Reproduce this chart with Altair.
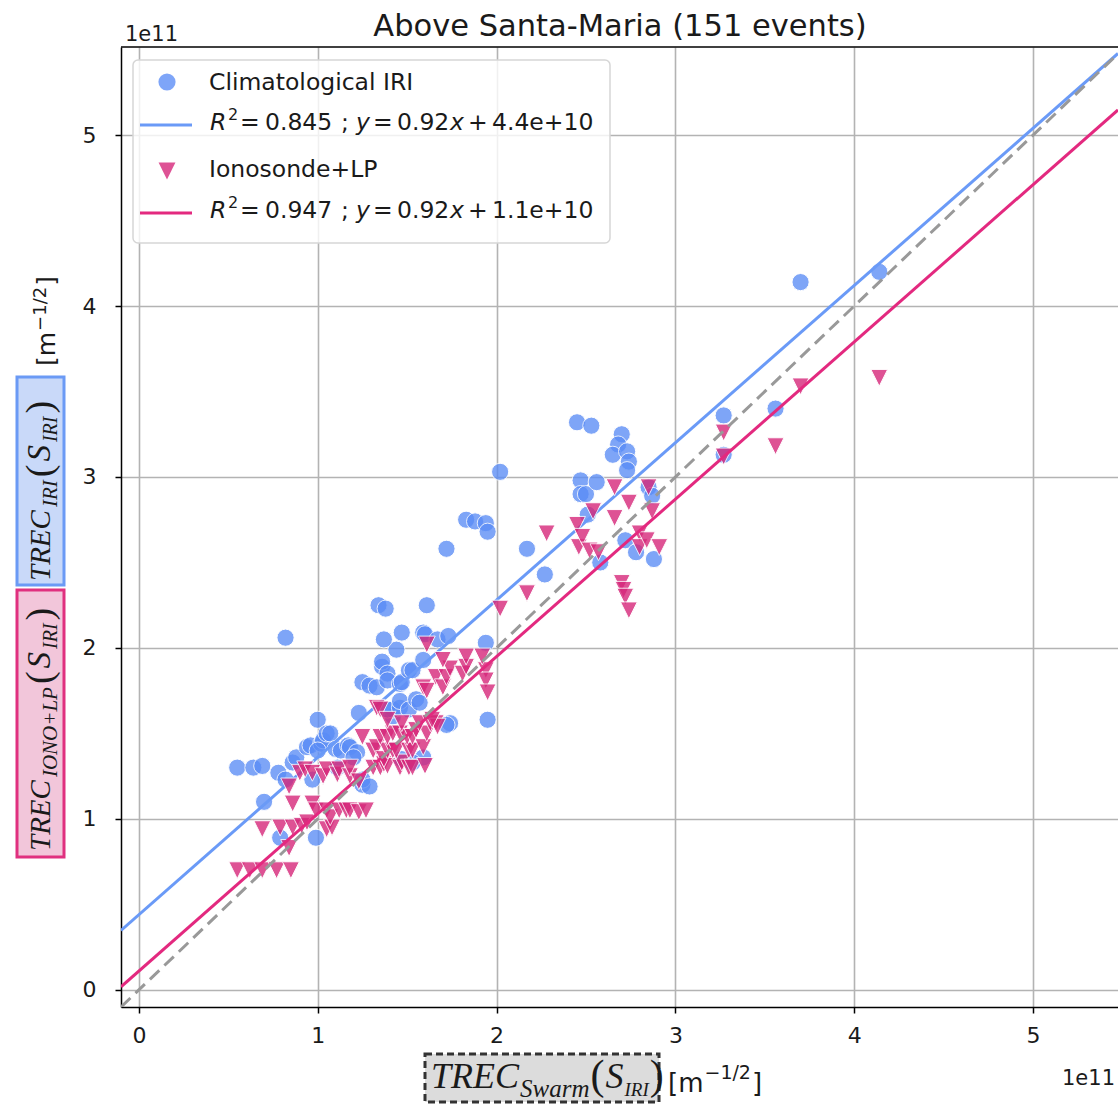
import altair as alt
import pandas as pd

# ---------------- data (values in units of 1e11 m^-1/2) ----------------
title_text = "Above Santa-Maria (151 events)"
series_names = ["Climatological IRI", "Ionosonde+LP"]

iri_x = [0.55, 0.64, 0.69, 0.78, 0.82, 0.70, 0.86, 0.88, 0.94, 0.96,
         1.00, 1.02, 1.03, 1.05, 1.07, 1.10, 1.13, 1.17, 1.18, 1.22,
         1.23, 1.25, 1.29, 1.33, 1.36, 1.36, 1.39, 1.39, 1.44, 1.46,
         1.47, 1.51, 1.53, 1.42, 1.42, 1.39, 1.46, 1.46, 1.51, 1.55,
         1.57, 1.59, 1.74, 1.72, 1.95, 1.94, 1.25, 1.25, 0.99, 0.79,
         0.82, 1.34, 1.38, 1.37, 1.47, 1.59, 1.61, 1.60, 1.59, 1.67,
         1.73, 1.72, 1.83, 1.88, 1.94, 1.95, 2.02, 2.17, 2.27, 2.45,
         2.53, 2.47, 2.47, 2.50, 2.51, 2.56, 2.58, 2.70, 2.68, 2.65,
         2.73, 2.74, 2.73, 2.72, 2.78, 2.85, 2.87, 2.88, 3.27, 3.27,
         3.56, 3.70, 4.14, 1.11, 0.97, 1.29, 1.47, 1.53, 1.00, 1.20]
iri_y = [1.30, 1.30, 1.31, 1.27, 1.23, 1.10, 1.33, 1.36, 1.42, 1.43,
         1.58, 1.44, 1.46, 1.50, 1.50, 1.41, 1.40, 1.43, 1.42, 1.39,
         1.62, 1.80, 1.78, 1.77, 1.89, 1.92, 1.85, 1.81, 1.99, 1.79,
         1.80, 1.87, 1.87, 1.60, 1.64, 1.64, 1.65, 1.69, 1.64, 1.70,
         1.68, 1.36, 1.56, 1.55, 1.58, 2.03, 1.20, 1.23, 0.89, 0.89,
         2.06, 2.25, 2.23, 2.05, 2.09, 2.09, 2.25, 2.08, 1.93, 2.05,
         2.07, 2.58, 2.75, 2.74, 2.73, 2.68, 3.03, 2.58, 2.43, 3.32,
         3.30, 2.98, 2.90, 2.90, 2.78, 2.97, 2.50, 3.25, 3.19, 3.13,
         3.15, 3.09, 3.04, 2.63, 2.56, 2.94, 2.89, 2.52, 3.36, 3.13,
         3.40, 4.14, 4.20, 1.30, 1.23, 1.19, 1.35, 1.33, 1.40, 1.36]

iono_x = [0.55, 0.62, 0.69, 0.77, 0.85, 0.84, 0.69, 0.79, 0.86, 0.91,
          0.94, 1.05, 1.08, 0.86, 0.97, 0.84, 0.99, 1.05, 1.07, 1.12,
          1.16, 1.18, 1.23, 1.27, 0.90, 0.93, 0.97, 1.03, 1.05, 1.11,
          1.12, 1.18, 1.18, 1.23, 1.31, 1.35, 1.37, 1.39, 1.46, 1.47,
          1.51, 1.53, 1.60, 1.31, 1.33, 1.37, 1.39, 1.42, 1.44, 1.51,
          1.53, 1.59, 1.25, 1.35, 1.39, 1.42, 1.46, 1.50, 1.53, 1.55,
          1.61, 1.47, 1.57, 1.63, 1.66, 1.67, 1.64, 1.33, 1.35, 1.39,
          1.59, 1.61, 1.66, 1.70, 1.72, 1.74, 1.81, 1.83, 1.94, 1.94,
          1.95, 1.61, 1.70, 1.83, 1.92, 2.02, 2.17, 2.28, 2.45, 2.46,
          2.48, 2.52, 2.54, 2.57, 2.66, 2.66, 2.74, 2.80, 2.80, 2.84,
          2.85, 2.87, 2.91, 2.70, 2.71, 2.72, 2.74, 3.27, 3.27, 3.56,
          3.70, 4.14]
iono_y = [0.70, 0.70, 0.70, 0.70, 0.70, 0.83, 0.94, 0.95, 0.95, 0.96,
          0.98, 0.94, 0.95, 1.09, 1.09, 1.19, 1.05, 1.05, 1.01, 1.05,
          1.05, 1.05, 1.04, 1.05, 1.27, 1.29, 1.27, 1.25, 1.29, 1.26,
          1.29, 1.25, 1.30, 1.22, 1.30, 1.30, 1.32, 1.31, 1.30, 1.33,
          1.30, 1.30, 1.31, 1.40, 1.42, 1.35, 1.40, 1.40, 1.40, 1.40,
          1.40, 1.42, 1.48, 1.48, 1.48, 1.50, 1.50, 1.48, 1.48, 1.52,
          1.50, 1.56, 1.56, 1.56, 1.56, 1.54, 1.58, 1.65, 1.64, 1.58,
          1.77, 1.75, 1.83, 1.77, 1.83, 1.88, 1.85, 1.89, 1.87, 1.81,
          1.74, 2.02, 1.93, 1.95, 1.95, 2.23, 2.32, 2.67, 2.72, 2.59,
          2.65, 2.57, 2.80, 2.56, 2.94, 2.76, 2.85, 2.67, 2.59, 2.63,
          2.94, 2.80, 2.59, 2.38, 2.34, 2.30, 2.22, 3.26, 3.12, 3.18,
          3.53, 3.58]

fit_slope = [0.92, 0.92]
fit_intercept = [0.44, 0.11]          # 4.4e+10 and 1.1e+10 in units of 1e11
fit_r2 = ["0.845", "0.947"]
fit_slope_label = ["0.92", "0.92"]
fit_intercept_label = ["4.4e+10", "1.1e+10"]

x_tick_values = [0, 1, 2, 3, 4, 5]
y_tick_values = [0, 1, 2, 3, 4, 5]
x_domain = [-0.1, 5.475]
y_domain = [-0.1, 5.515]
offset_label = "1e11"

# ---------------- layout / style ----------------
PAD_L, PAD_T, PAD_B = 121, 47, 98
W, H = 1118 - PAD_L, 1105 - PAD_T - PAD_B

BLUE_PT, BLUE_LN = "#5a8cf6", "#6a9af7"
PINK_PT, PINK_LN = "#d6277a", "#e3297f"
TEXT_C = "#1a1a1a"
TRI = "M-1,-1L1,-1L0,1Z"

XS = alt.Scale(domain=x_domain, nice=False, zero=False)
YS = alt.Scale(domain=y_domain, nice=False, zero=False)
common_axis = dict(title=None, grid=True, gridColor="#b3b3b3", gridWidth=1.6,
                   domainColor="black", domainWidth=1.5, tickColor="black",
                   tickSize=6, tickWidth=1.5, labelFont="DejaVu Sans",
                   labelFontSize=22, labelColor=TEXT_C, format="d")
XA = alt.Axis(values=x_tick_values, labelPadding=12, **common_axis)
YA = alt.Axis(values=y_tick_values, labelPadding=19, **common_axis)


def enc():
    return dict(x=alt.X("x:Q", scale=XS, axis=XA), y=alt.Y("y:Q", scale=YS, axis=YA))


iri_df = pd.DataFrame({"x": iri_x, "y": iri_y})
iono_df = pd.DataFrame({"x": iono_x, "y": iono_y})


def fit_df(i):
    return pd.DataFrame({"x": x_domain,
                         "y": [fit_slope[i] * v + fit_intercept[i] for v in x_domain]})


diag_df = pd.DataFrame({"x": x_domain, "y": x_domain})

layers = []
layers.append(alt.Chart(iri_df).mark_point(shape="circle", filled=True, size=295,
                                            color=BLUE_PT, opacity=0.78, stroke="white",
                                            strokeWidth=1).encode(**enc()))
layers.append(alt.Chart(fit_df(0)).mark_line(color=BLUE_LN, strokeWidth=3, clip=True).encode(**enc()))
layers.append(alt.Chart(iono_df).mark_point(shape=TRI, filled=True, size=285,
                                             color=PINK_PT, opacity=0.8, stroke="white",
                                             strokeWidth=1).encode(**enc()))
layers.append(alt.Chart(fit_df(1)).mark_line(color=PINK_LN, strokeWidth=3, clip=True).encode(**enc()))
layers.append(alt.Chart(diag_df).mark_line(color="#999999", strokeWidth=3, strokeDash=[13, 7],
                                            clip=True).encode(**enc()))

dummy = pd.DataFrame({"d": [0]})


def X(px):
    return alt.value(px - PAD_L)


def Y(py):
    return alt.value(py - PAD_T)


def txt(text, x, y, size, italic=False, font="DejaVu Sans", angle=0, align="left",
        baseline="alphabetic", color=TEXT_C):
    kw = dict(text=text, fontSize=size, font=font, fontStyle="italic" if italic else "normal",
              align=align, baseline=baseline, color=color)
    if angle:
        kw["angle"] = angle
    return alt.Chart(dummy).mark_text(**kw).encode(x=X(x), y=Y(y))


def rect(x1, x2, y1, y2, **kw):
    return alt.Chart(dummy).mark_rect(**kw).encode(x=X(x1), x2=X(x2), y=Y(y1), y2=Y(y2))


def hline(x1, x2, y, color, width):
    return alt.Chart(dummy).mark_rule(color=color, strokeWidth=width).encode(
        x=X(x1), x2=X(x2), y=Y(y))


# top spine
layers.append(alt.Chart(dummy).mark_rule(color="black", strokeWidth=1.5).encode(
    x=alt.value(0), x2=alt.value(W), y=alt.value(0)))

# title & offset texts
layers.append(txt(title_text, 620, 36, 30.5, align="center"))
layers.append(txt(offset_label, 125, 41, 21))
layers.append(txt(offset_label, 1062, 1085, 21))

# ---------------- legend ----------------
layers.append(rect(133, 610, 60, 243, fill="white", fillOpacity=0.8, stroke="#d6d6d6",
                   strokeWidth=1.5, cornerRadius=5))
layers.append(alt.Chart(dummy).mark_point(shape="circle", filled=True, size=295, color=BLUE_PT,
                                           opacity=0.78).encode(x=X(167), y=Y(82)))
layers.append(alt.Chart(dummy).mark_point(shape=TRI, filled=True, size=285, color=PINK_PT,
                                           opacity=0.8).encode(x=X(167), y=Y(171)))
layers.append(hline(140, 192, 125, BLUE_LN, 3))
layers.append(hline(140, 192, 213, PINK_LN, 3))
LF = 23.5
layers.append(txt(series_names[0], 209, 90, LF))
layers.append(txt(series_names[1], 209, 177, LF))
for i, base in enumerate([130, 218]):
    layers.append(txt("R", 210, base, LF, italic=True))
    layers.append(txt("2", 228, base - 10, 16))
    layers.append(txt("=", 240, base, LF))
    layers.append(txt(fit_r2[i], 265, base, LF))
    layers.append(txt(";", 341, base, LF))
    layers.append(txt("y", 356, base, LF, italic=True))
    layers.append(txt("=", 373, base, LF))
    layers.append(txt(fit_slope_label[i], 397, base, LF))
    layers.append(txt("x", 450, base, LF, italic=True))
    layers.append(txt("+", 468, base, LF))
    layers.append(txt(fit_intercept_label[i], 492, base, LF))

# ---------------- axis-label formulas ----------------
WID = {
    "serif_it": {"T": .556, "R": .611, "E": .611, "C": .667, "I": .333, "O": .722, "N": .667,
                 "+": .675, "L": .556, "P": .611, "S": .5, "w": .667, "a": .5, "r": .389,
                 "m": .722},
    "serif": {"(": .333, ")": .333},
    "sans": {"[": .390, "m": .974, "]": .390, "\u2212": .838, "1": .636, "/": .337, "2": .636},
}
FONT = {"serif_it": "Liberation Serif", "serif": "Liberation Serif", "sans": "DejaVu Sans"}


def formula(segs, start, base, vertical=False, gap=2):
    out = []
    pos = start
    for text, size, kind, shift in segs:
        w = sum(WID[kind][c] for c in text) * size
        italic = kind == "serif_it"
        if vertical:
            out.append(txt(text, base + shift, pos, size, italic=italic, font=FONT[kind], angle=270))
            pos -= w + gap
        else:
            out.append(txt(text, pos, base + shift, size, italic=italic, font=FONT[kind]))
            pos += w + gap
    return out


# y label boxes
layers.append(rect(17, 64, 377, 585, fill="#c9d9f9", stroke="#6b9af5", strokeWidth=3))
layers.append(rect(17, 64, 590, 857, fill="#f2c6da", stroke="#e0307f", strokeWidth=3))
layers += formula([("TREC", 29, "serif_it", 0), ("IRI", 21, "serif_it", 7),
                   ("(", 38, "serif", 2), ("S", 33, "serif_it", 0),
                   ("IRI", 20, "serif_it", 7), (")", 38, "serif", 2)],
                  581, 50, vertical=True, gap=3)
layers += formula([("TREC", 29, "serif_it", 0), ("IONO+LP", 21, "serif_it", 7),
                   ("(", 38, "serif", 2), ("S", 33, "serif_it", 0),
                   ("IRI", 20, "serif_it", 7), (")", 38, "serif", 2)],
                  851, 50, vertical=True, gap=3)
layers += formula([("[m", 25, "sans", 0), ("\u22121/2", 18, "sans", -9), ("]", 25, "sans", 0)],
                  366, 55, vertical=True, gap=1)

# x label box
layers.append(rect(425, 659, 1054, 1102, fill="#dcdcdc", stroke="#333333", strokeWidth=3,
                   strokeDash=[7, 4]))
layers += formula([("TREC", 36, "serif_it", 0), ("Swarm", 25, "serif_it", 9),
                   ("(", 42, "serif", 1), ("S", 36, "serif_it", 0),
                   ("IRI", 19, "serif_it", 8), (")", 42, "serif", 1)],
                  431, 1088, vertical=False, gap=1)
layers += formula([("[m", 26, "sans", 0), ("\u22121/2", 19, "sans", -13), ("]", 26, "sans", 0)],
                  668, 1092, vertical=False, gap=1)

chart = alt.layer(*layers).properties(
    width=W, height=H,
    padding={"left": PAD_L, "top": PAD_T, "right": 0, "bottom": PAD_B},
    autosize=alt.AutoSizeParams(type="none"),
    background="white",
).configure_view(stroke=None)

chart.save("out.html", embed_options={"renderer": "svg", "actions": False})
